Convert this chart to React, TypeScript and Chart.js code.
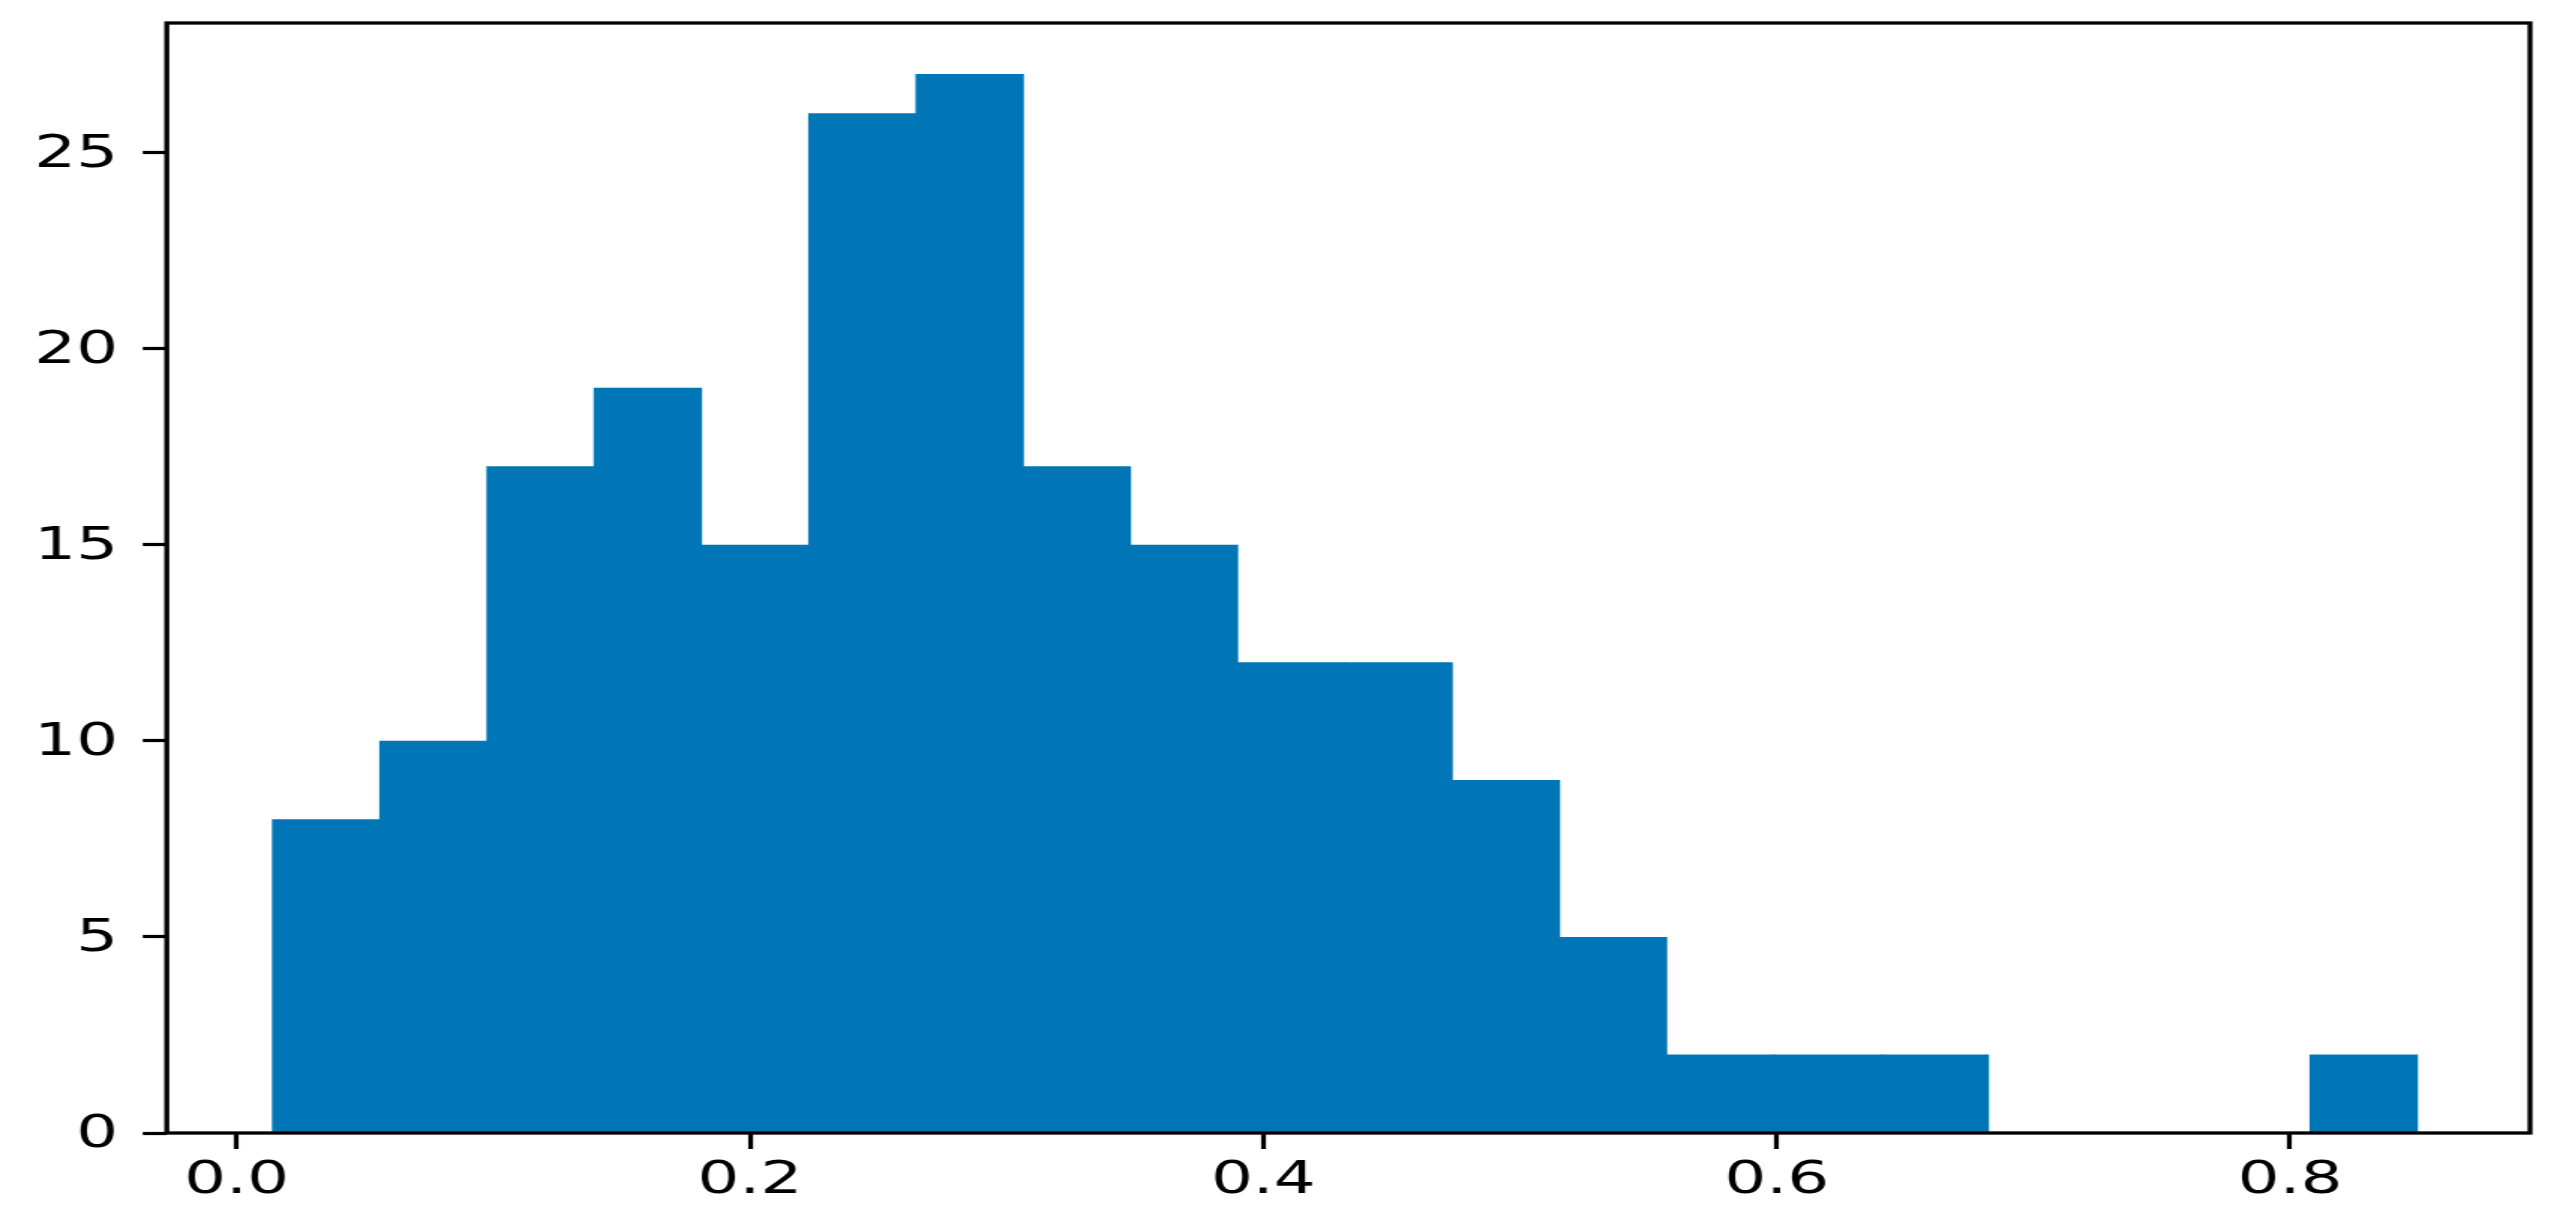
import React, { useEffect, useRef } from "react";
import { Chart, registerables } from "chart.js";

Chart.register(...registerables);

// Histogram bin edges (21 edges -> 20 bins) and counts
const binEdges: number[] = [
  0.014, 0.0558, 0.0976, 0.1393, 0.1811, 0.2229, 0.2647, 0.3065, 0.3482, 0.39,
  0.4318, 0.4736, 0.5154, 0.5571, 0.5989, 0.6407, 0.6825, 0.7243, 0.766, 0.8078,
  0.8496,
];
const binCounts: number[] = [
  8, 10, 17, 19, 15, 26, 27, 17, 15, 12, 12, 9, 5, 2, 2, 2, 0, 0, 0, 2,
];
const xTickValues: number[] = [0.0, 0.2, 0.4, 0.6, 0.8];
const yTickValues: number[] = [0, 5, 10, 15, 20, 25];

const LOGICAL_W = 1709;
const LOGICAL_H = 1229;
const BAR_COLOR = "#0076b6";

const spinePlugin = {
  id: "spines",
  afterDraw(chart: any) {
    const { ctx, chartArea } = chart;
    ctx.save();
    ctx.strokeStyle = "#000";
    ctx.lineWidth = 3.3;
    ctx.strokeRect(
      chartArea.left,
      chartArea.top,
      chartArea.right - chartArea.left,
      chartArea.bottom - chartArea.top
    );
    ctx.restore();
  },
};

export default function App() {
  const ref = useRef<HTMLCanvasElement | null>(null);

  useEffect(() => {
    document.body.style.margin = "0";
    document.body.style.overflow = "hidden";
    const canvas = ref.current;
    if (!canvas) return;
    const points = binCounts.map((c, i) => ({
      x: (binEdges[i] + binEdges[i + 1]) / 2,
      y: c,
    }));
    const chart = new Chart(canvas, {
      type: "bar",
      data: {
        datasets: [
          {
            data: points as any,
            backgroundColor: BAR_COLOR,
            borderWidth: 0,
            barPercentage: 1.012,
            categoryPercentage: 1.0,
          },
        ],
      },
      plugins: [spinePlugin],
      options: {
        animation: false,
        responsive: false,
        maintainAspectRatio: false,
        devicePixelRatio: 1,
        layout: { padding: { top: 23, right: 22, left: 0, bottom: 0 } },
        plugins: { legend: { display: false }, tooltip: { enabled: false } },
        scales: {
          x: {
            type: "linear",
            offset: false,
            min: -0.0272,
            max: 0.8935,
            afterFit: (s: any) => {
              s.height = 96;
              s.paddingLeft = 0;
              s.paddingRight = 0;
            },
            afterBuildTicks: (s: any) => {
              s.ticks = xTickValues.map((v) => ({ value: v }));
            },
            border: { display: false },
            grid: {
              offset: false,
              display: true,
              drawOnChartArea: false,
              drawTicks: true,
              tickLength: 16,
              tickWidth: 3.2,
              tickColor: "#000",
            },
            ticks: {
              maxRotation: 0,
              autoSkip: false,
              padding: 6,
              color: "#000",
              font: { family: "DejaVu Sans", size: 44 },
              callback: (v: any) => Number(v).toFixed(1),
            },
          },
          y: {
            type: "linear",
            min: 0,
            max: 28.3,
            afterFit: (s: any) => {
              s.width = 111.2;
              s.paddingTop = 0;
              s.paddingBottom = 0;
            },
            afterBuildTicks: (s: any) => {
              s.ticks = yTickValues.map((v) => ({ value: v }));
            },
            border: { display: false },
            grid: {
              display: true,
              drawOnChartArea: false,
              drawTicks: true,
              tickLength: 16,
              tickWidth: 3.2,
              tickColor: "#000",
            },
            ticks: {
              autoSkip: false,
              padding: 16.5,
              labelOffset: 3,
              color: "#000",
              font: { family: "DejaVu Sans", size: 44 },
              callback: (v: any) => String(v),
            },
          },
        },
      },
    });
    return () => chart.destroy();
  }, []);

  return (
    <canvas
      ref={ref}
      width={LOGICAL_W}
      height={LOGICAL_H}
      style={{ display: "block", width: "2563px", height: "1229px" }}
    />
  );
}
